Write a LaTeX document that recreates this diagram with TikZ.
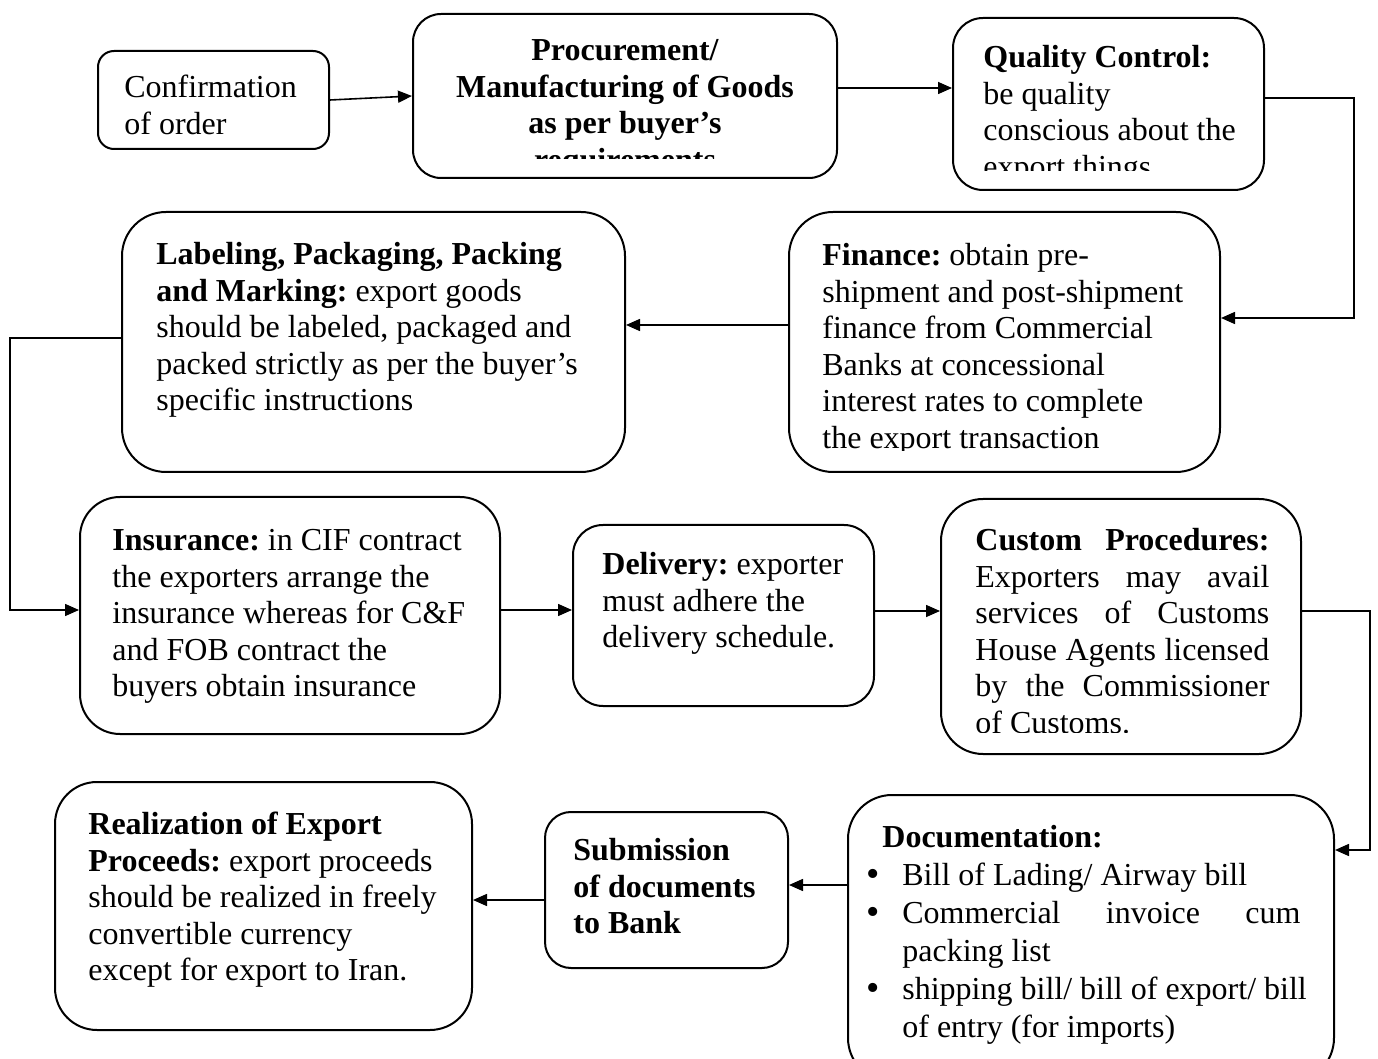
\documentclass[tikz,border=0pt]{standalone}
\usepackage{fontspec}
\setmainfont{Liberation Serif}
\usetikzlibrary{arrows.meta,fit}
\frenchspacing
\newcommand\nsp{\spaceskip=0pt\xspaceskip=0pt\relax}
\newcommand\bigbul{\makebox[18pt][l]{\smash{\raisebox{-0.6pt}{\fontsize{19}{19}\selectfont\textbullet}}}}
\begin{document}
\begin{tikzpicture}[x=0.5pt,y=-0.5pt,
  box/.style={draw, line width=1pt, inner sep=0pt, rounded corners=#1},
  box/.default=15pt,
  txt/.style={inner sep=0pt, anchor=north west, text width=#1,
    font=\fontsize{16}{18.3}\selectfont},
  arr/.style={line width=0.8pt, -{Triangle[length=7pt,width=6pt]}}]
\fill[white] (0,0) rectangle (1378,1059);
\useasboundingbox (0,0) rectangle (1378,1059);

% boxes
\node[box=8pt,  fit={(98,51) (329,149)}]    (conf) {};
\node[box=14pt, fit={(413,14) (837,178)}]   (proc) {};
\node[box=15pt, fit={(953,18) (1264,190)}]  (qc)   {};
\node[box=22pt, fit={(122,212) (625,472)}]  (lab)  {};
\node[box=22pt, fit={(789,212) (1220,472)}] (fin)  {};
\node[box=20pt, fit={(80,497) (500,734)}]   (ins)  {};
\node[box=15pt, fit={(573,525) (874,706)}]  (del)  {};
\node[box=21pt, fit={(941,499) (1301,754)}] (cus)  {};
\node[box=21pt, fit={(55,782) (472,1030)}]  (real) {};
\node[box=13pt, fit={(545,812) (788,968)}]  (sub)  {};
\node[box=22pt, fit={(848,795) (1334,1082)}] (doc) {};

% texts
\node[txt=150pt] (confT) at (124,71.4) {\nsp\strut Confirmation\\of order};

\begin{scope}
\clip (413,14) rectangle (837,159);
\node[txt=200pt, anchor=north] (procT) at (625,34.4)
  {\nsp\centering\strut\bfseries Procurement/\\Manufacturing of Goods\\as per buyer’s\\requirements\par};
\end{scope}

\begin{scope}
\clip (953,18) rectangle (1264,171);
\node[txt=200pt] (qcT) at (983,41.4)
  {\nsp\strut\textbf{Quality Control:}\\be quality\\conscious about the\\export things};
\end{scope}

\node[txt=250pt] (labT) at (156,238.4)
  {\nsp\strut\textbf{Labeling, Packaging, Packing}\\\textbf{and Marking:} export goods\\should be labeled, packaged and\\packed strictly as per the buyer’s\\specific instructions};

\begin{scope}
\clip (789,212) rectangle (1220,451);
\node[txt=250pt] (finT) at (822,239.4)
  {\nsp\strut\textbf{Finance:} obtain pre-\\shipment and post-shipment\\finance from Commercial\\Banks at concessional\\interest rates to complete\\the export transaction};
\end{scope}

\node[txt=250pt] (insT) at (112,524.4)
  {\nsp\strut\textbf{Insurance:} in CIF contract\\the exporters arrange the\\insurance whereas for C\&F\\and FOB contract the\\buyers obtain insurance};

\node[txt=200pt] (delT) at (602,548.4)
  {\nsp\strut\textbf{Delivery:} exporter\\must adhere the\\delivery schedule.};

\begin{scope}
\clip (941,499) rectangle (1301,732);
\node[txt=160pt] (cusT) at (975,524.4)
  {\nsp\strut\makebox[147pt][s]{\textbf{Custom Procedures:}}\\
   \makebox[147pt][s]{Exporters may avail}\\
   \makebox[147pt][s]{services of Customs}\\
   \makebox[147pt][s]{House Agents licensed}\\
   \makebox[147pt][s]{by the Commissioner}\\
   of Customs.};
\end{scope}

\node[txt=250pt] (realT) at (88,808.4)
  {\nsp\strut\textbf{Realization of Export}\\\textbf{Proceeds:} export proceeds\\should be realized in freely\\convertible currency\\except for export to Iran.};

\node[txt=150pt] (subT) at (573,834.4)
  {\nsp\strut\bfseries Submission\\of documents\\to Bank};

\node[txt=240pt, font=\fontsize{16}{19}\selectfont] (docT) at (866,820.4)
  {\nsp\strut\hspace*{8pt}\textbf{Documentation:}\\
   \bigbul Bill of Lading/ Airway bill\\
   \bigbul\makebox[199pt][s]{Commercial invoice cum}\\
   \hspace*{18pt}packing list\\
   \bigbul shipping bill/ bill of export/ bill\\
   \hspace*{18pt}of entry (for imports)};

% helper coordinates
\coordinate (h1) at (0,88);
\coordinate (h2) at (0,98);
\coordinate (c1) at (1354,318);
\coordinate (h3) at (0,325);
\coordinate (h4) at (0,338);
\coordinate (c2) at (10,610);
\coordinate (h5) at (0,610);
\coordinate (h6) at (0,611);
\coordinate (c3) at (1370,850);
\coordinate (h7) at (0,885);
\coordinate (h8) at (0,900);

% connectors
\draw[arr] (conf.east) -- (proc.west);
\draw[arr] (proc.east |- h1) -- (qc.west |- h1);
\draw[arr] (qc.east |- h2) -- (c1 |- h2) -- (c1) -- (fin.east |- c1);
\draw[arr] (fin.west |- h3) -- (lab.east |- h3);
\draw[arr] (lab.west |- h4) -- (c2 |- h4) -- (c2) -- (ins.west |- c2);
\draw[arr] (ins.east |- h5) -- (del.west |- h5);
\draw[arr] (del.east |- h6) -- (cus.west |- h6);
\draw[arr] (cus.east |- h6) -- (c3 |- h6) -- (c3) -- (doc.east |- c3);
\draw[arr] (doc.west |- h7) -- (sub.east |- h7);
\draw[arr] (sub.west |- h8) -- (real.east |- h8);
\end{tikzpicture}
\end{document}
